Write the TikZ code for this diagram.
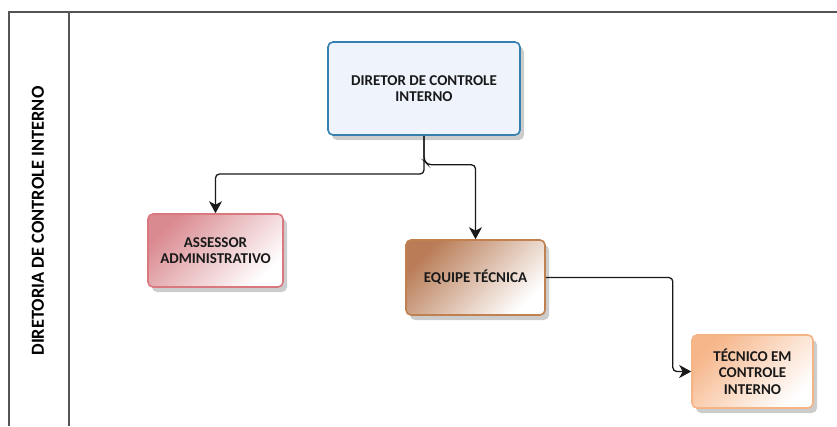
\documentclass[tikz,border=0pt]{standalone}
\usepackage{fontspec}
\setmainfont{Carlito}
\usetikzlibrary{arrows.meta,shadows}
\definecolor{dirline}{HTML}{3580B0}
\definecolor{dirfill}{HTML}{EEF3FC}
\definecolor{assline}{HTML}{D9787F}
\definecolor{assfill}{HTML}{D98A90}
\definecolor{eqline}{HTML}{C08050}
\definecolor{eqfill}{HTML}{B97C56}
\definecolor{tecline}{HTML}{F5B485}
\definecolor{tecfill}{HTML}{F6B68A}
\definecolor{lane}{HTML}{555555}
\tikzstyle{box}=[rectangle,rounded corners=5pt,line width=1.6pt,align=center,
  font=\fontsize{15}{16.5}\selectfont\bfseries,text=black!90,
  drop shadow={shadow xshift=4pt,shadow yshift=-5pt,opacity=0.2,fill=black}]
\tikzstyle{conn}=[line width=1.3pt,black!90,rounded corners=4pt,
  -{Stealth[length=12pt,width=13pt,inset=3.5pt]}]

\begin{document}
\begin{tikzpicture}[x=1pt,y=-1pt]
\useasboundingbox (0,0) rectangle (837,426);

\draw[lane,line width=1.5pt] (837,12) -- (9,12) -- (9,426);
\draw[lane,line width=1.5pt] (69,12) -- (69,426);
\node[rotate=90,font=\fontsize{18.4}{19}\selectfont\bfseries] (title) at (38,221) {DIRETORIA DE CONTROLE INTERNO};

\node[box,draw=dirline,fill=dirfill,minimum width=192pt,minimum height=93pt] (dir) at (424,88.5) {DIRETOR DE CONTROLE\\INTERNO};
\node[box,draw=assline,top color=assfill,bottom color=white,shading angle=45,minimum width=135pt,minimum height=73pt] (ass) at (215.5,250.5) {ASSESSOR\\ADMINISTRATIVO};
\node[box,draw=eqline,top color=eqfill,bottom color=white,shading angle=45,minimum width=139pt,minimum height=75pt] (eq) at (475.5,277.5) {EQUIPE TÉCNICA};
\node[box,draw=tecline,top color=tecfill,bottom color=white,shading angle=45,minimum width=121pt,minimum height=73pt] (tec) at (752.5,371.5) {TÉCNICO EM\\CONTROLE\\INTERNO};

\coordinate (split) at (424,174);
\draw[conn] (dir.south) -- (split) -| (ass.north);
\draw[conn] (dir.south) -- ++(0,25) -- ++(4,4) -| (eq.north);
\draw[conn] (eq.east) -- ++(127,0) |- (tec.west);

\end{tikzpicture}
\end{document}
